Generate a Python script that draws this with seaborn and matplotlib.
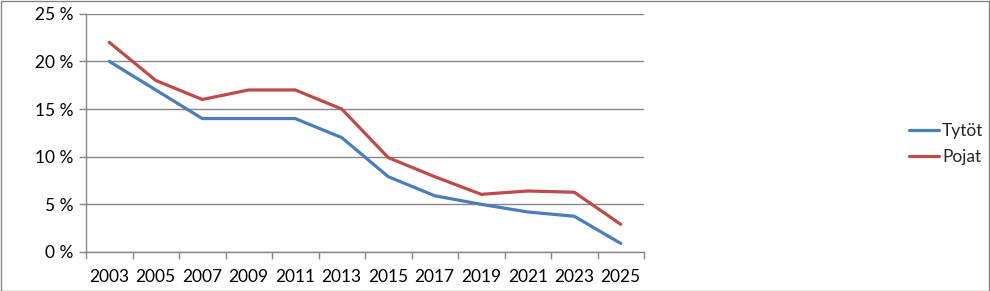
import matplotlib
matplotlib.use("Agg")
import matplotlib.pyplot as plt
import seaborn as sns
import pandas as pd
import numpy as np
from matplotlib.ticker import FixedLocator, FuncFormatter
from matplotlib.lines import Line2D

years = ["2003", "2005", "2007", "2009", "2011", "2013", "2015", "2017", "2019", "2021", "2023", "2025"]
tytot = [20.0, 17.0, 14.0, 14.0, 14.0, 12.0, 7.9, 5.9, 5.0, 4.2, 3.75, 0.9]
pojat = [22.0, 18.0, 16.0, 17.0, 17.0, 15.0, 9.9, 7.9, 6.05, 6.4, 6.27, 2.9]
series_names = ["Tytöt", "Pojat"]
colors = ["#4A7EBB", "#BE4B48"]

df = pd.DataFrame({"Vuosi": years * 2,
                   "Osuus": tytot + pojat,
                   "Sarja": [series_names[0]] * len(years) + [series_names[1]] * len(years)})

sns.set_theme(style="white")
plt.rcParams["font.family"] = ["Lato", "DejaVu Sans"]

fig = plt.figure(figsize=(9.9, 2.91), dpi=100)
ax = fig.add_axes([86 / 990, 1 - 252 / 291, (644 - 86) / 990, (252 - 13.7) / 291])

sns.lineplot(data=df, x="Vuosi", y="Osuus", hue="Sarja", palette=colors,
             linewidth=2.3, ax=ax, legend=False, sort=False)

ax.set_xlim(-0.5, len(years) - 0.5)
ax.set_ylim(0, 25)
ax.set_xlabel("")
ax.set_ylabel("")

ax.yaxis.set_major_locator(FixedLocator([0, 5, 10, 15, 20, 25]))
ax.yaxis.set_major_formatter(FuncFormatter(lambda v, p: f"{int(v)} %"))
ax.grid(axis="y", color="#868686", linewidth=1.0)
ax.grid(axis="x", visible=False)
ax.set_axisbelow(True)

ax.set_xticks(range(len(years)))
ax.set_xticklabels(years)
ax.set_xticks(np.arange(-0.5, len(years), 1.0), minor=True)
ax.tick_params(axis="x", which="major", length=0, pad=12, labelsize=12.5, colors="black")
ax.tick_params(axis="x", which="minor", length=5, width=1, color="#868686", bottom=True)
ax.tick_params(axis="y", which="major", length=5, width=1, color="#868686", left=True,
               labelsize=12.5, labelcolor="black", pad=4)

for s in ["top", "right"]:
    ax.spines[s].set_visible(False)
for s in ["left", "bottom"]:
    ax.spines[s].set_color("#868686")
    ax.spines[s].set_linewidth(1.0)

# legend
handles = [Line2D([], [], color=c, linewidth=2.3) for c in colors]
fig.legend(handles, series_names, loc="center left", bbox_to_anchor=(909 / 990, 1 - 144 / 291),
           frameon=False, fontsize=12.5, handlelength=1.7, handletextpad=0.2, labelspacing=0.55,
           borderaxespad=0, borderpad=0)

# outer border
fig.patches.append(plt.Rectangle((0.5 / 990, 0.5 / 291), 1 - 1.5 / 990, 1 - 1.5 / 291,
                                 transform=fig.transFigure, fill=False,
                                 edgecolor="#868686", linewidth=1.0))

fig.savefig("out.png", dpi=100)
